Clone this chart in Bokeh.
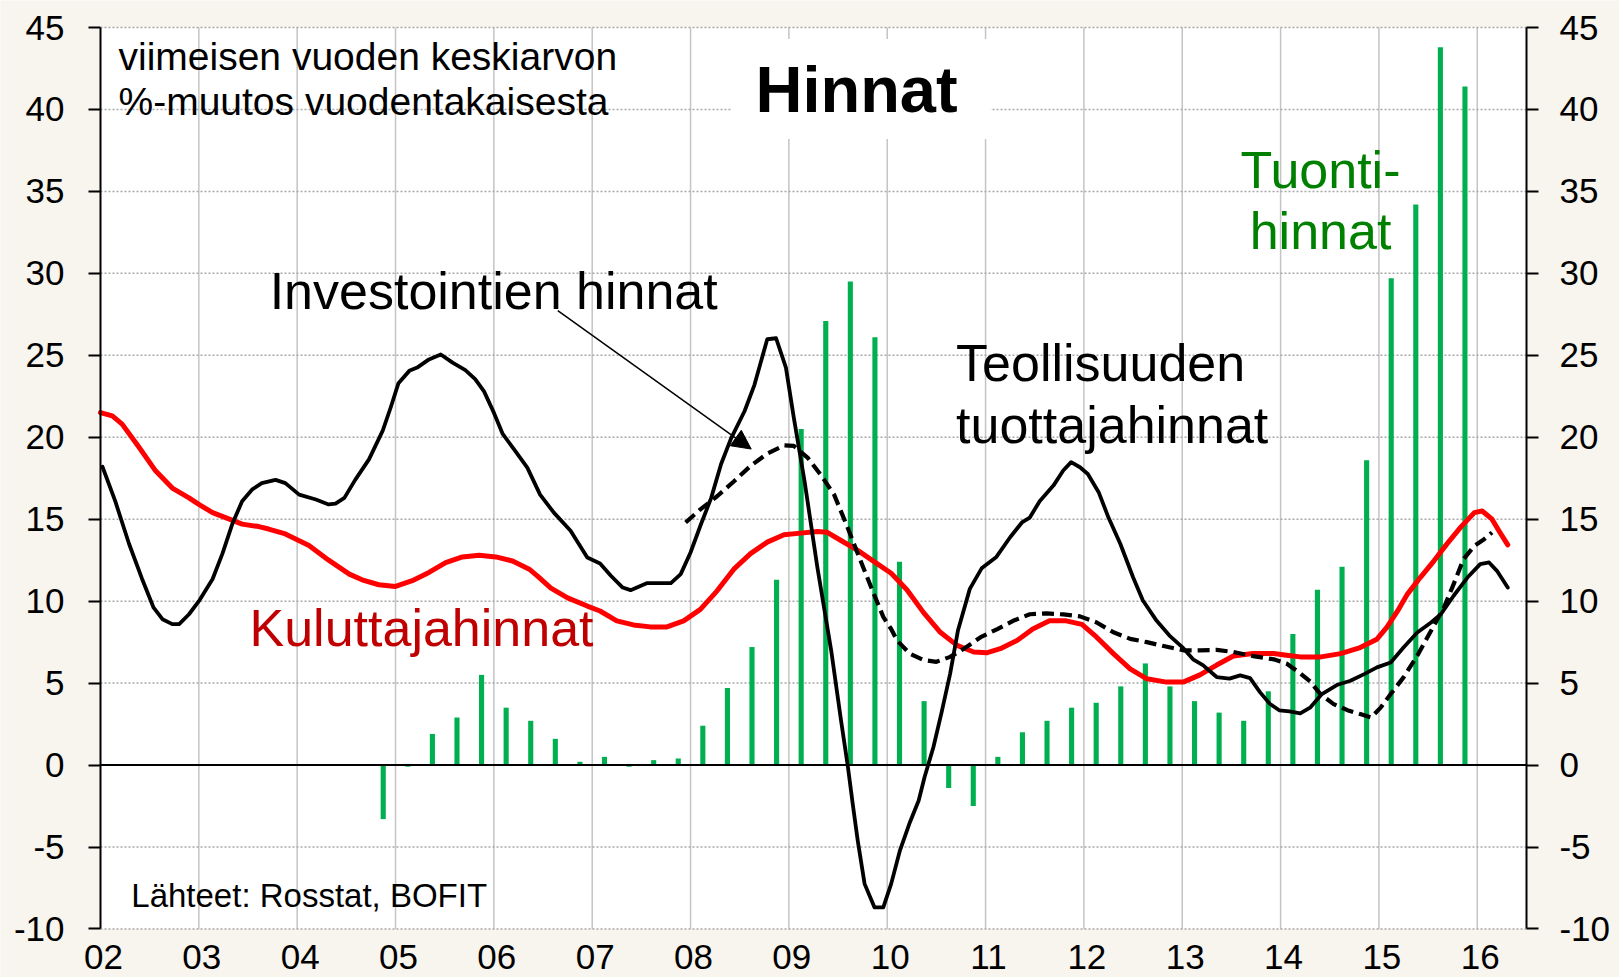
from bokeh.plotting import figure
from bokeh.models import Label, BoxAnnotation, Arrow, NormalHead, Range1d, LinearAxis, FixedTicker
from bokeh.embed import file_html
from bokeh.resources import INLINE

# ---------------- data ----------------
quarters = ["2004Q4",
            "2005Q1", "2005Q2", "2005Q3", "2005Q4",
            "2006Q1", "2006Q2", "2006Q3", "2006Q4",
            "2007Q1", "2007Q2", "2007Q3", "2007Q4",
            "2008Q1", "2008Q2", "2008Q3", "2008Q4",
            "2009Q1", "2009Q2", "2009Q3", "2009Q4",
            "2010Q1", "2010Q2", "2010Q3", "2010Q4",
            "2011Q1", "2011Q2", "2011Q3", "2011Q4",
            "2012Q1", "2012Q2", "2012Q3", "2012Q4",
            "2013Q1", "2013Q2", "2013Q3", "2013Q4",
            "2014Q1", "2014Q2", "2014Q3", "2014Q4",
            "2015Q1", "2015Q2", "2015Q3", "2015Q4"]
import_prices = [-3.3,
                 -0.1, 1.9, 2.9, 5.5,
                 3.5, 2.7, 1.6, 0.2,
                 0.5, -0.1, 0.3, 0.4,
                 2.4, 4.7, 7.2, 11.3,
                 20.5, 27.1, 29.5, 26.1,
                 12.4, 3.9, -1.4, -2.5,
                 0.5, 2.0, 2.7, 3.5,
                 3.8, 4.8, 6.2, 4.8,
                 3.9, 3.2, 2.7, 4.5,
                 8.0, 10.7, 12.1, 18.6,
                 29.7, 34.2, 43.8, 41.4]

# consumer prices (Kuluttajahinnat), time in decimal years
cpi_t = [2002.00, 2002.12, 2002.22, 2002.39, 2002.56, 2002.73, 2002.90, 2003.00, 2003.14, 2003.31,
         2003.44, 2003.61, 2003.71, 2003.88, 2004.12, 2004.32, 2004.53, 2004.66, 2004.83, 2005.00,
         2005.17, 2005.34, 2005.51, 2005.68, 2005.85, 2006.02, 2006.19, 2006.36, 2006.45, 2006.58,
         2006.75, 2006.95, 2007.08, 2007.25, 2007.42, 2007.59, 2007.76, 2007.93, 2008.10, 2008.27,
         2008.44, 2008.61, 2008.78, 2008.95, 2009.12, 2009.29, 2009.39, 2009.53, 2009.70, 2009.87,
         2010.04, 2010.20, 2010.37, 2010.54, 2010.71, 2010.88, 2011.01, 2011.15, 2011.32, 2011.48,
         2011.65, 2011.82, 2011.98, 2012.13, 2012.30, 2012.47, 2012.64, 2012.84, 2013.01, 2013.18,
         2013.35, 2013.52, 2013.72, 2013.93, 2014.06, 2014.20, 2014.41, 2014.61, 2014.81, 2014.98,
         2015.08, 2015.19, 2015.29, 2015.42, 2015.56, 2015.69, 2015.83, 2015.97, 2016.05, 2016.15,
         2016.22, 2016.31]
cpi = [21.5, 21.3, 20.8, 19.4, 17.95, 16.9, 16.3, 15.9, 15.4, 15.0,
       14.7, 14.55, 14.4, 14.1, 13.4, 12.5, 11.65, 11.3, 11.0, 10.9,
       11.25, 11.75, 12.35, 12.7, 12.8, 12.7, 12.45, 11.95, 11.5, 10.8,
       10.2, 9.7, 9.4, 8.8, 8.55, 8.43, 8.43, 8.8, 9.5, 10.63,
       11.95, 12.9, 13.6, 14.05, 14.15, 14.25, 14.2, 13.7, 13.1, 12.4,
       11.7, 10.7, 9.3, 8.1, 7.3, 6.9, 6.85, 7.1, 7.6, 8.3,
       8.8, 8.8, 8.58, 7.8, 6.8, 5.87, 5.26, 5.06, 5.06, 5.5,
       6.1, 6.65, 6.8, 6.8, 6.7, 6.6, 6.6, 6.8, 7.17, 7.68,
       8.4, 9.4, 10.43, 11.44, 12.46, 13.48, 14.5, 15.4, 15.5, 15.0,
       14.3, 13.43]

# industrial producer prices (Teollisuuden tuottajahinnat)
ppi_t = [2002.02, 2002.15, 2002.29, 2002.42, 2002.54, 2002.63, 2002.73, 2002.80, 2002.90, 2003.00,
         2003.14, 2003.24, 2003.34, 2003.44, 2003.54, 2003.64, 2003.78, 2003.88, 2004.02, 2004.19,
         2004.32, 2004.39, 2004.48, 2004.59, 2004.73, 2004.87, 2004.95, 2005.03, 2005.14, 2005.22,
         2005.34, 2005.46, 2005.58, 2005.71, 2005.81, 2005.90, 2006.00, 2006.09, 2006.20, 2006.34,
         2006.47, 2006.61, 2006.78, 2006.95, 2007.08, 2007.19, 2007.31, 2007.39, 2007.56, 2007.70,
         2007.80, 2007.90, 2008.00, 2008.10, 2008.21, 2008.31, 2008.41, 2008.55, 2008.65, 2008.78,
         2008.87, 2008.97, 2009.05, 2009.16, 2009.29, 2009.43, 2009.53, 2009.60, 2009.65, 2009.70,
         2009.77, 2009.87, 2009.96, 2010.04, 2010.13, 2010.23, 2010.32, 2010.38, 2010.47, 2010.55,
         2010.64, 2010.72, 2010.84, 2010.96, 2011.11, 2011.25, 2011.37, 2011.45, 2011.55, 2011.69,
         2011.79, 2011.87, 2011.96, 2012.04, 2012.15, 2012.25, 2012.37, 2012.50, 2012.60, 2012.74,
         2012.87, 2013.00, 2013.11, 2013.21, 2013.35, 2013.48, 2013.59, 2013.69, 2013.79, 2013.89,
         2013.99, 2014.09, 2014.20, 2014.30, 2014.42, 2014.58, 2014.71, 2014.85, 2014.98, 2015.12,
         2015.25, 2015.39, 2015.53, 2015.63, 2015.76, 2015.90, 2016.03, 2016.12, 2016.20, 2016.31]
ppi = [18.2, 16.1, 13.5, 11.4, 9.6, 8.9, 8.6, 8.6, 9.2, 10.0,
       11.35, 12.9, 14.7, 16.1, 16.8, 17.2, 17.4, 17.2, 16.5, 16.2,
       15.9, 15.95, 16.3, 17.4, 18.65, 20.4, 21.8, 23.3, 24.05, 24.25,
       24.75, 25.05, 24.55, 24.1, 23.55, 22.8, 21.5, 20.2, 19.3, 18.15,
       16.5, 15.4, 14.3, 12.66, 12.3, 11.55, 10.83, 10.67, 11.1, 11.1,
       11.1, 11.65, 12.97, 14.6, 16.3, 18.35, 19.9, 21.6, 23.2, 25.98,
       26.04, 24.25, 21.2, 17.3, 12.05, 7.0, 2.73, -0.1, -2.4, -4.6,
       -7.25, -8.68, -8.68, -7.25, -5.2, -3.5, -2.16, -0.73, 1.1, 3.14,
       5.58, 8.23, 10.75, 12.0, 12.7, 13.9, 14.8, 15.1, 16.1, 17.05,
       17.97, 18.48, 18.17, 17.76, 16.65, 15.1, 13.5, 11.46, 10.04, 8.8,
       7.9, 7.2, 6.45, 6.1, 5.37, 5.27, 5.47, 5.3, 4.45, 3.74,
       3.33, 3.27, 3.15, 3.5, 4.33, 4.9, 5.14, 5.55, 5.96, 6.26,
       7.17, 8.09, 8.7, 9.2, 10.33, 11.44, 12.26, 12.36, 11.85, 10.83]

# investment prices (Investointien hinnat)
inv_t = [2007.95, 2008.10, 2008.27, 2008.44, 2008.61, 2008.78, 2008.95, 2009.05, 2009.19, 2009.32,
         2009.46, 2009.59, 2009.72, 2009.86, 2009.96, 2010.04, 2010.10, 2010.23, 2010.37, 2010.50,
         2010.64, 2010.78, 2010.95, 2011.12, 2011.28, 2011.45, 2011.62, 2011.79, 2011.96, 2012.13,
         2012.30, 2012.47, 2012.64, 2012.81, 2013.01, 2013.18, 2013.35, 2013.52, 2013.72, 2013.93,
         2014.06, 2014.20, 2014.30, 2014.41, 2014.54, 2014.68, 2014.81, 2014.92, 2015.02, 2015.12,
         2015.25, 2015.39, 2015.53, 2015.66, 2015.76, 2015.86, 2015.97, 2016.07, 2016.15]
inv = [14.8, 15.6, 16.4, 17.3, 18.25, 19.0, 19.5, 19.47, 18.76, 17.74,
       16.5, 14.6, 12.6, 10.5, 9.04, 8.3, 7.6, 6.8, 6.4, 6.3,
       6.6, 7.1, 7.8, 8.3, 8.8, 9.2, 9.25, 9.19, 9.07, 8.7,
       8.1, 7.7, 7.5, 7.26, 7.0, 7.0, 7.03, 6.9, 6.65, 6.45,
       6.2, 5.6, 5.1, 4.3, 3.72, 3.35, 3.11, 2.9, 3.52, 4.33,
       5.35, 6.67, 8.19, 9.6, 11.04, 12.56, 13.37, 13.78, 14.19]

year_ticks = list(range(2002, 2017))
year_labels = ["02", "03", "04", "05", "06", "07", "08", "09", "10", "11", "12", "13", "14", "15", "16"]
y_ticks = list(range(-10, 46, 5))

# ---------------- layout / styling ----------------
FONT = "Liberation Sans"
BEIGE = "#F8F4EE"
W, H = 1619, 977
X0, X1 = 2002.0, 2016.5          # plot area (years)
Y0, Y1 = -10.0, 45.0             # plot area (per cent)
PLOT_LEFT, PLOT_TOP = 100, 27    # pixel position of the plot area's top-left corner
PX_X = 98.34                     # pixels per year
PX_Y = 16.39                     # pixels per per-cent unit

# the frame covers the whole canvas; axes are placed at the plot-area edges
x_lo = X0 - PLOT_LEFT / PX_X
x_hi = x_lo + W / PX_X
y_hi = Y1 + PLOT_TOP / PX_Y
y_lo = y_hi - H / PX_Y

p = figure(width=W, height=H, output_backend="svg", toolbar_location=None,
           x_range=Range1d(x_lo, x_hi), y_range=Range1d(y_lo, y_hi),
           x_axis_location=None, y_axis_location=None,
           min_border=0, min_border_left=0, min_border_right=0, min_border_top=0, min_border_bottom=0,
           background_fill_color=BEIGE, border_fill_color=BEIGE, outline_line_color=None)
p.xgrid.visible = False
p.ygrid.visible = False

# white plot area
p.quad(left=[X0], right=[X1], bottom=[Y0], top=[Y1], fill_color="white", line_color=None)

# grid lines
vx = year_ticks[1:]
p.segment(x0=vx, y0=[Y0] * len(vx), x1=vx, y1=[Y1] * len(vx), line_color="#C4C4C4", line_width=1.5)
p.segment(x0=[X0] * len(y_ticks), y0=y_ticks, x1=[X1] * len(y_ticks), y1=y_ticks,
          line_color="#A8A8A8", line_width=1.5, line_dash="2 2")

# import price bars
bar_x = [int(q[:4]) + (int(q[-1]) - 1) * 0.25 + 0.125 for q in quarters]
p.vbar(x=bar_x, top=import_prices, bottom=0, width=0.052, fill_color="#00B050", line_color=None)

# zero line
p.segment(x0=[X0], y0=[0], x1=[X1], y1=[0], line_color="black", line_width=2)

# lines
p.line(cpi_t, cpi, line_color="#FF0000", line_width=5, line_join="round", line_cap="round")
p.line(ppi_t, ppi, line_color="black", line_width=3.8, line_join="round", line_cap="round")
p.line(inv_t, inv, line_color="black", line_width=4.2, line_dash="12 6", line_join="round")

# y axes at both edges of the plot area
left_ax = LinearAxis(fixed_location=X0)
right_ax = LinearAxis(fixed_location=X1)
p.add_layout(left_ax, "left")
p.add_layout(right_ax, "right")
for ax in (left_ax, right_ax):
    ax.ticker = FixedTicker(ticks=y_ticks)
    ax.bounds = (Y0, Y1)
    ax.axis_line_color = "black"
    ax.axis_line_width = 2
    ax.major_tick_line_color = "black"
    ax.major_tick_line_width = 2
    ax.major_tick_out = 12
    ax.major_tick_in = 0
    ax.minor_tick_line_color = None
    ax.major_label_text_font = FONT
    ax.major_label_text_font_size = "35px"
    ax.major_label_text_color = "black"
    ax.major_label_overrides = {t: str(t) for t in y_ticks}
left_ax.major_label_standoff = 24
right_ax.major_label_standoff = 21


def txt(x, y, s, size, color="black", align="left", style="normal"):
    # y is the wanted baseline; labels are drawn about 0.37 em lower, so lift them
    lift = 0.37 * size / PX_Y
    p.add_layout(Label(x=x, y=y + lift, text=s, text_font=FONT, text_font_size=f"{size}px",
                       text_color=color, text_align=align, text_baseline="alphabetic",
                       text_font_style=style))


# year labels below the plot area
for yr, lab in zip(year_ticks, year_labels):
    txt(yr + 0.03, -12.5, lab, 35, align="center")

# title box and texts
p.add_layout(BoxAnnotation(left=2008.41, right=2011.05, bottom=38.2, top=44.3,
                           fill_color="white", fill_alpha=1.0, line_color=None))

txt(2002.183, 42.36, "viimeisen vuoden keskiarvon", 39)
txt(2002.183, 39.62, "%-muutos vuodentakaisesta", 39)
txt(2008.66, 39.74, "Hinnat", 65, style="bold")
txt(2003.72, 27.72, "Investointien hinnat", 52)
txt(2010.70, 23.34, "Teollisuuden", 52)
txt(2010.70, 19.58, "tuottajahinnat", 52)
txt(2003.515, 7.18, "Kuluttajahinnat", 52, color="#C00000")
txt(2014.406, 35.16, "Tuonti-", 52, color="#008000", align="center")
txt(2014.406, 31.38, "hinnat", 52, color="#008000", align="center")
txt(2002.313, -8.72, "Lähteet: Rosstat, BOFIT", 33)

p.add_layout(Arrow(x_start=2006.65, y_start=27.72, x_end=2008.617, y_end=19.28,
                   line_color="black", line_width=1.5,
                   end=NormalHead(size=19, fill_color="black", line_color="black", line_width=1)))

open("out.html", "w").write(file_html(p, INLINE))
